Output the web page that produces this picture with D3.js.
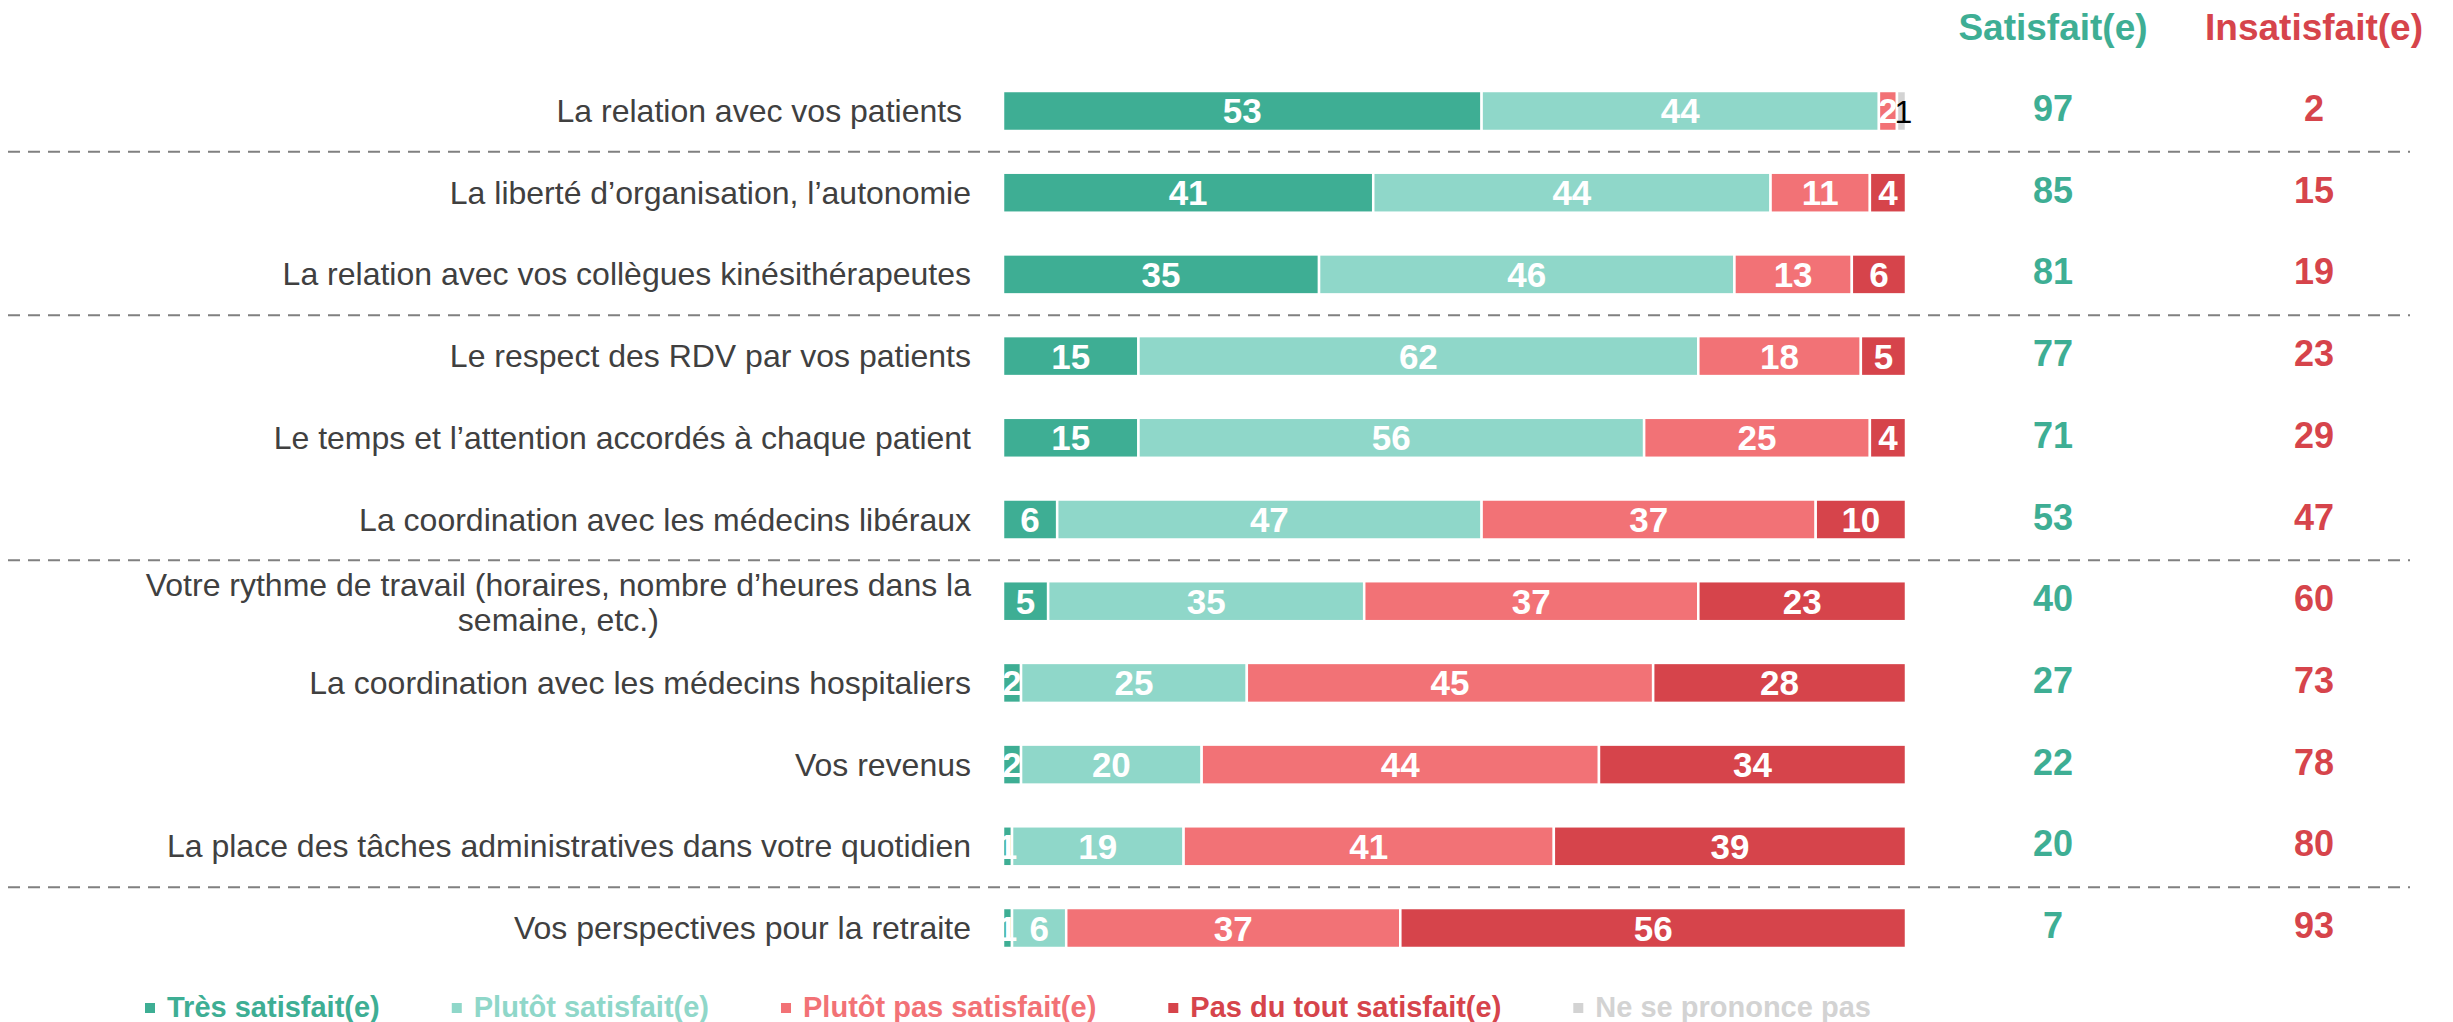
<!DOCTYPE html>
<html>
<head>
<meta charset="utf-8">
<script src="https://cdn.jsdelivr.net/npm/d3@7"></script>
<style>
  html, body { margin: 0; padding: 0; background: #fff; }
  svg { display: block; font-family: "Liberation Sans", Arial, sans-serif; }
</style>
</head>
<body>
<svg id="chart" width="2453" height="1022"></svg>
<script>
// ---------- DATA ----------
const categories = [
  "La relation avec vos patients ",
  "La liberté d’organisation, l’autonomie",
  "La relation avec vos collègues kinésithérapeutes",
  "Le respect des RDV par vos patients",
  "Le temps et l’attention accordés à chaque patient",
  "La coordination avec les médecins libéraux",
  "Votre rythme de travail (horaires, nombre d’heures dans la\nsemaine, etc.)",
  "La coordination avec les médecins hospitaliers",
  "Vos revenus",
  "La place des tâches administratives dans votre quotidien",
  "Vos perspectives pour la retraite"
];
const seriesNames = ["Très satisfait(e)", "Plutôt satisfait(e)", "Plutôt pas satisfait(e)", "Pas du tout satisfait(e)", "Ne se prononce pas"];
const tresSatisfait   = [53, 41, 35, 15, 15, 6, 5, 2, 2, 1, 1];
const plutotSatisfait = [44, 44, 46, 62, 56, 47, 35, 25, 20, 19, 6];
const plutotPas       = [2, 11, 13, 18, 25, 37, 37, 45, 44, 41, 37];
const pasDuTout       = [0, 4, 6, 5, 4, 10, 23, 28, 34, 39, 56];
const neSePrononce    = [1, 0, 0, 0, 0, 0, 0, 0, 0, 0, 0];
const satisfaitTotals   = [97, 85, 81, 77, 71, 53, 40, 27, 22, 20, 7];
const insatisfaitTotals = [2, 15, 19, 23, 29, 47, 60, 73, 78, 80, 93];
const totalHeaders = ["Satisfait(e)", "Insatisfait(e)"];
const groupEndsAfter = [0, 2, 5, 9];

// ---------- STYLE ----------
const colors = ["#3EAE94", "#8FD7C9", "#F27276", "#D6444B", "#D3D3D3"];
const labelColors = ["#fff", "#fff", "#fff", "#fff", "#000"];
const labelWeights = ["bold", "bold", "bold", "bold", "normal"];
const textColor = "#404040";

const svg = d3.select("#chart");
svg.append("rect").attr("width", 2453).attr("height", 1022).attr("fill", "#fff");

const keys = seriesNames;
const table = categories.map((c, i) => ({
  cat: c,
  [keys[0]]: tresSatisfait[i],
  [keys[1]]: plutotSatisfait[i],
  [keys[2]]: plutotPas[i],
  [keys[3]]: pasDuTout[i],
  [keys[4]]: neSePrononce[i]
}));
const stacked = d3.stack().keys(keys)(table);

const x = d3.scaleLinear().domain([0, 100]).range([1003, 1906]);
const y = d3.scaleBand().domain(categories).range([49.3, 989.7]).paddingInner(0.5104).paddingOuter(0.5104);
const bw = y.bandwidth();
const step = y.step();

// separators
groupEndsAfter.forEach(i => {
  const yy = y(categories[i]) + bw / 2 + step / 2;
  svg.append("line")
    .attr("x1", 8).attr("x2", 2410)
    .attr("y1", yy).attr("y2", yy)
    .attr("stroke", "#808080").attr("stroke-width", 2)
    .attr("stroke-dasharray", "12,8");
});

// bars
const layers = svg.append("g").selectAll("g").data(stacked).join("g")
  .attr("fill", (d, i) => colors[i]);
layers.selectAll("rect").data(d => d.map(p => ({p, cat: p.data.cat})))
  .join("rect")
  .attr("x", d => x(d.p[0]))
  .attr("width", d => Math.max(0, x(d.p[1]) - x(d.p[0])))
  .attr("y", d => y(d.cat))
  .attr("height", bw)
  .attr("stroke", "#fff").attr("stroke-width", 2.5)
  .attr("display", d => d.p[1] - d.p[0] > 0 ? null : "none");

// bar labels
stacked.forEach((s, si) => {
  svg.append("g").selectAll("text").data(s.filter(p => p[1] - p[0] > 0)).join("text")
    .attr("x", p => (x(p[0]) + x(p[1])) / 2 + (si === 4 ? 2 : 0))
    .attr("y", p => y(p.data.cat) + bw / 2 + 12.5)
    .attr("text-anchor", "middle")
    .attr("font-size", si === 4 ? 32 : 35).attr("font-weight", labelWeights[si])
    .attr("fill", labelColors[si])
    .text(p => p[1] - p[0]);
});

// category labels
const labelX = 971;
categories.forEach(c => {
  const lines = c.split("\n");
  const cy = y(c) + bw / 2;
  if (lines.length === 1) {
    svg.append("text")
      .attr("x", labelX).attr("y", cy + 11)
      .attr("text-anchor", "end")
      .attr("font-size", 32).attr("fill", textColor)
      .style("white-space", "pre")
      .text(lines[0]);
  } else {
    const t1 = svg.append("text")
      .attr("x", labelX).attr("y", cy - 16 + 11)
      .attr("text-anchor", "end")
      .attr("font-size", 32).attr("fill", textColor)
      .text(lines[0]);
    const w1 = t1.node().getComputedTextLength();
    svg.append("text")
      .attr("x", labelX - w1 / 2).attr("y", cy + 19 + 11)
      .attr("text-anchor", "middle")
      .attr("font-size", 32).attr("fill", textColor)
      .text(lines[1]);
  }
});

// totals columns
const colX = [2053, 2314];
const colColors = [colors[0], colors[3]];
[satisfaitTotals, insatisfaitTotals].forEach((vals, k) => {
  svg.append("text")
    .attr("x", colX[k]).attr("y", 40)
    .attr("text-anchor", "middle")
    .attr("font-size", 37).attr("font-weight", "bold")
    .attr("fill", colColors[k])
    .text(totalHeaders[k]);
  svg.append("g").selectAll("text").data(vals).join("text")
    .attr("x", colX[k])
    .attr("y", (v, i) => y(categories[i]) + bw / 2 + 10)
    .attr("text-anchor", "middle")
    .attr("font-size", 36).attr("font-weight", "bold")
    .attr("fill", colColors[k])
    .text(v => v);
});

// legend
let lx = 145;
const legY = 1017;
seriesNames.forEach((n, i) => {
  svg.append("rect")
    .attr("x", lx).attr("y", 1003).attr("width", 10).attr("height", 10)
    .attr("fill", colors[i]);
  const t = svg.append("text")
    .attr("x", lx + 22).attr("y", legY)
    .attr("font-size", 29).attr("font-weight", "bold")
    .attr("fill", colors[i])
    .text(n);
  lx = lx + 22 + t.node().getComputedTextLength() + 72;
});
</script>
</body>
</html>
